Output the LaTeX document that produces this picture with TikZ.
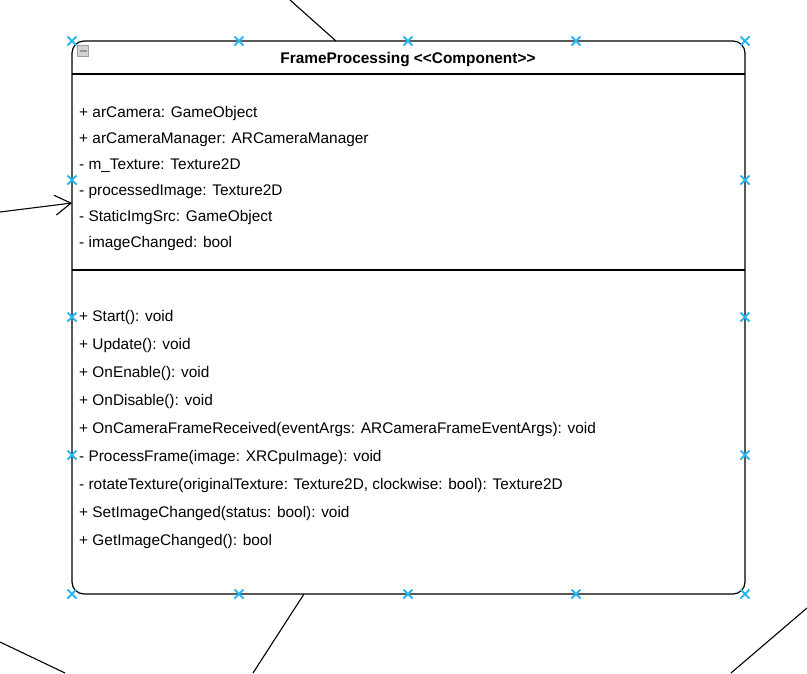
\documentclass[tikz,border=0pt]{standalone}
\usepackage{fontspec}
\setmainfont{Liberation Sans}
\usetikzlibrary{arrows.meta,calc}
\definecolor{handleblue}{RGB}{41,182,242}
\tikzset{
	member/.style={anchor=base west,inner sep=0pt,font=\fontsize{15.4}{18}\selectfont},
	title/.style={anchor=base,inner sep=0pt,font=\fontsize{15.4}{18}\selectfont\bfseries},
	handle/.style={draw=handleblue,line width=1.8pt},
	link/.style={draw,line width=1.1pt},
}
\newcommand{\handlemark}[1]{\draw[handle] ($(#1)+(-4.5,-4.5)$)--++(9,9) ($(#1)+(-4.5,4.5)$)--++(9,-9);}
\begin{document}
\begin{tikzpicture}[x=1pt,y=-1pt,>={Straight Barb[length=16pt,width=20pt]}]
	\useasboundingbox (0,0) rectangle (807,673);
	% class box
	\draw[line width=1.2pt,rounded corners=12pt] (72,41)coordinate (NW) rectangle (745,594)coordinate (SE);
	\draw[line width=1.1pt] (72,74)--(745,74);
	\draw[line width=1.1pt] (72,270)--(745,270);
	\draw[fill=gray!35,draw=gray!75,line width=0.8pt] (77.5,45.5) rectangle (88.5,56.5);
	\draw[line width=2pt,gray!80] (79.5,51)--(86.5,51);
	\node[title] (cls) at (408,63) {FrameProcessing <\kern0pt<Component>\kern0pt>};
	% attributes
	\node[member] (a1) at (79,117) {+ arCamera: GameObject};
	\node[member] (a2) at (79,143) {+ arCameraManager: ARCameraManager};
	\node[member] (a3) at (79,169) {- m\_Texture: Texture2D};
	\node[member] (a4) at (79,195) {- processedImage: Texture2D};
	\node[member] (a5) at (79,221) {- StaticImgSrc: GameObject};
	\node[member] (a6) at (79,247) {- imageChanged: bool};
	% operations
	\node[member] (m1) at (79,321) {+ Start(): void};
	\node[member] (m2) at (79,349) {+ Update(): void};
	\node[member] (m3) at (79,377) {+ OnEnable(): void};
	\node[member] (m4) at (79,405) {+ OnDisable(): void};
	\node[member] (m5) at (79,433) {+ OnCameraFrameReceived(eventArgs: ARCameraFrameEventArgs): void};
	\node[member] (m6) at (79,461) {- ProcessFrame(image: XRCpuImage): void};
	\node[member] (m7) at (79,489) {- rotateTexture(originalTexture: Texture2D, clockwise: bool): Texture2D};
	\node[member] (m8) at (79,517) {+ SetImageChanged(status: bool): void};
	\node[member] (m9) at (79,545) {+ GetImageChanged(): bool};
	% connectors
	\coordinate (inL) at (72,203);
	\coordinate (top) at (336,41);
	\coordinate (botM) at (304,594);
	\draw[link,->] (0,212)coordinate (srcL)--(inL);
	\draw[link] (290,0)coordinate (srcT)--(top);
	\draw[link] (botM)--(253,673)coordinate (dstM);
	\draw[link] (0,642)coordinate (e1)--(65,673)coordinate (e2);
	\draw[link] (807,608)coordinate (e3)--(731,673)coordinate (e4);
	% selection handles
	\foreach \x in {72,239,408,576,745} {\handlemark{\x,41} \handlemark{\x,594}}
	\foreach \y in {180,317,455} {\handlemark{72,\y} \handlemark{745,\y}}
\end{tikzpicture}
\end{document}
